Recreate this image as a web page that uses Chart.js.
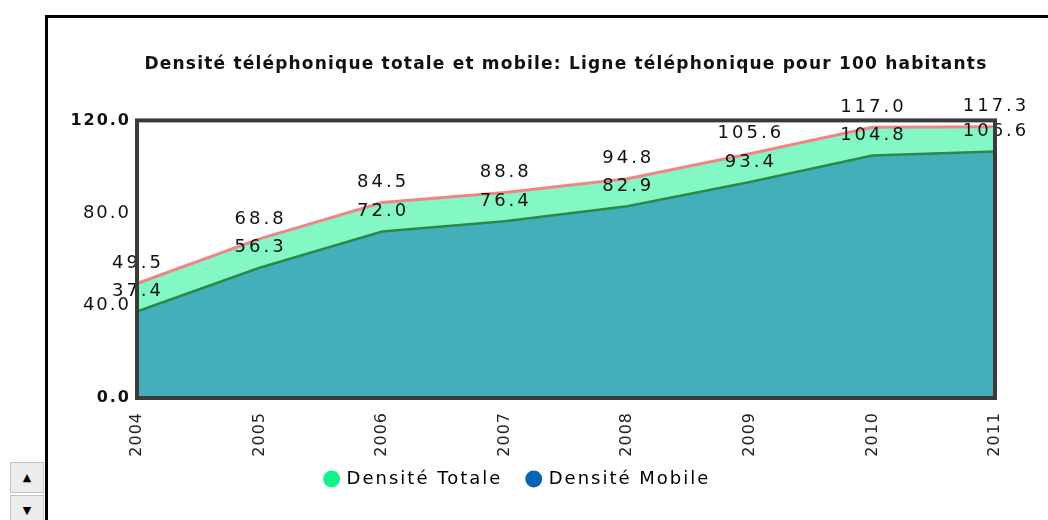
<!DOCTYPE html>
<html>
<head>
<meta charset="utf-8">
<script src="https://cdn.jsdelivr.net/npm/chart.js@4/dist/chart.umd.min.js"></script>
<style>
  body { margin: 0; background: #fff; }
  #wrap { position: relative; width: 1048px; height: 520px; overflow: hidden; }
  #frame { position: absolute; left: 45px; top: 15px; width: 1100px; height: 600px;
           border-left: 3px solid #000; border-top: 3px solid #000; }
  .btn { position: absolute; left: 10px; width: 32px; height: 29px; background: #ececec;
         border: 1px solid #c4c4c4; font: 11px "DejaVu Sans"; color: #000;
         text-align: center; line-height: 29px; }
  canvas { position: absolute; left: 0; top: 0; }
</style>
</head>
<body>
<div id="wrap">
  <div id="frame"></div>
  <div class="btn" style="top:462px">▲</div>
  <div class="btn" style="top:495px">▼</div>
  <canvas id="densityChart" width="1048" height="520"></canvas>
</div>
<script>
// data
const years = ['2004', '2005', '2006', '2007', '2008', '2009', '2010', '2011'];
const densiteTotale = [49.5, 68.8, 84.5, 88.8, 94.8, 105.6, 117.0, 117.3];
const densiteMobile = [37.4, 56.3, 72.0, 76.4, 82.9, 93.4, 104.8, 106.6];
const seriesNames = ['Densité Totale', 'Densité Mobile'];
const legendColors = ['#14f08c', '#0b63b4'];
const yTicks = [0, 40, 80, 120];

const FONT = '"DejaVu Sans", Verdana, sans-serif';

// value labels above each point, plot frame, and letter spacing to get the wide pixel-font look
const valueLabels = {
  id: 'valueLabels',
  beforeUpdate(chart) { chart.ctx.letterSpacing = '2px'; },
  beforeDraw(chart) {
    chart.ctx.letterSpacing = '2px';
    // title is tighter than the rest
    const tb = chart.titleBlock;
    if (tb && !tb.spacedDraw) {
      const orig = tb.draw;
      tb.draw = function (...args) {
        const c = this.ctx;
        const prev = c.letterSpacing;
        c.letterSpacing = '1.2px';
        orig.apply(this, args);
        c.letterSpacing = prev;
      };
      tb.spacedDraw = true;
    }
  },
  afterDatasetsDraw(chart) {
    const ctx = chart.ctx;
    ctx.save();
    ctx.letterSpacing = '3px';
    ctx.font = '18px ' + FONT;
    ctx.fillStyle = '#111';
    ctx.textAlign = 'center';
    ctx.textBaseline = 'middle';
    chart.data.datasets.forEach((ds, i) => {
      chart.getDatasetMeta(i).data.forEach((pt, j) => {
        ctx.fillText(ds.data[j].toFixed(1), pt.x + 1, pt.y - 20);
      });
    });
    ctx.restore();
    ctx.letterSpacing = '1px'; // x tick labels (z: 1) are drawn after this
  },
  afterDraw(chart) {
    const a = chart.chartArea;
    const ctx = chart.ctx;
    ctx.save();
    ctx.strokeStyle = '#3a3a3a';
    ctx.lineWidth = 4;
    ctx.strokeRect(a.left, a.top, a.right - a.left, a.bottom - a.top);
    ctx.restore();
  }
};

const ctx = document.getElementById('densityChart');
new Chart(ctx, {
  type: 'line',
  data: {
    labels: years,
    datasets: [
      {
        label: seriesNames[0],
        data: densiteTotale,
        fill: '+1',
        backgroundColor: '#84f8c4',
        borderColor: '#ef8585',
        borderWidth: 3,
        pointRadius: 0,
        tension: 0
      },
      {
        label: seriesNames[1],
        data: densiteMobile,
        fill: 'origin',
        backgroundColor: '#42afbb',
        borderColor: '#2c8a48',
        borderWidth: 2.5,
        pointRadius: 0,
        tension: 0
      }
    ]
  },
  options: {
    responsive: false,
    animation: false,
    layout: { padding: { left: 0, right: 12, top: 0, bottom: 22 } },
    scales: {
      x: {
        grid: { display: false, drawTicks: false },
        border: { display: false },
        ticks: {
          z: 1,
          autoSkip: false,
          maxRotation: 90,
          minRotation: 90,
          padding: 14,
          color: '#222',
          font: { family: FONT, size: 16 }
        },
        afterFit(scale) {
          scale.height = 62;
          scale.paddingRight = 53;
        }
      },
      y: {
        min: 0,
        max: 120,
        grid: { display: false, drawTicks: false },
        border: { display: false },
        afterBuildTicks(scale) { scale.ticks = yTicks.map(v => ({ value: v })); },
        ticks: {
          padding: 6,
          color: '#111',
          callback: v => Number(v).toFixed(1),
          font: c => {
            const edge = c.index === 0 || c.index === yTicks.length - 1;
            return { family: FONT, size: edge ? 16 : 18, weight: edge ? 'bold' : 'normal' };
          }
        },
        afterFit(scale) { scale.width = 137; }
      }
    },
    plugins: {
      filler: { drawTime: 'beforeDatasetsDraw' },
      tooltip: { enabled: false },
      title: {
        display: true,
        fullSize: false,
        text: 'Densité téléphonique totale et mobile: Ligne téléphonique pour 100 habitants',
        color: '#111',
        font: { family: FONT, size: 17, weight: 'bold' },
        padding: { top: 54, bottom: 46 }
      },
      legend: {
        position: 'bottom',
        labels: {
          usePointStyle: true,
          pointStyle: 'circle',
          boxWidth: 12,
          boxHeight: 12,
          padding: 10,
          color: '#222',
          font: { family: FONT, size: 18 },
          // trailing spaces on the first item widen the gap between the two entries
          generateLabels: chart => chart.data.datasets.map((ds, i) => ({
            text: i === 0 ? ds.label + '  ' : ds.label,
            fillStyle: legendColors[i],
            strokeStyle: legendColors[i],
            lineWidth: 0,
            pointStyle: 'circle',
            hidden: false,
            datasetIndex: i
          }))
        }
      }
    }
  },
  plugins: [valueLabels]
});
</script>
</body>
</html>
